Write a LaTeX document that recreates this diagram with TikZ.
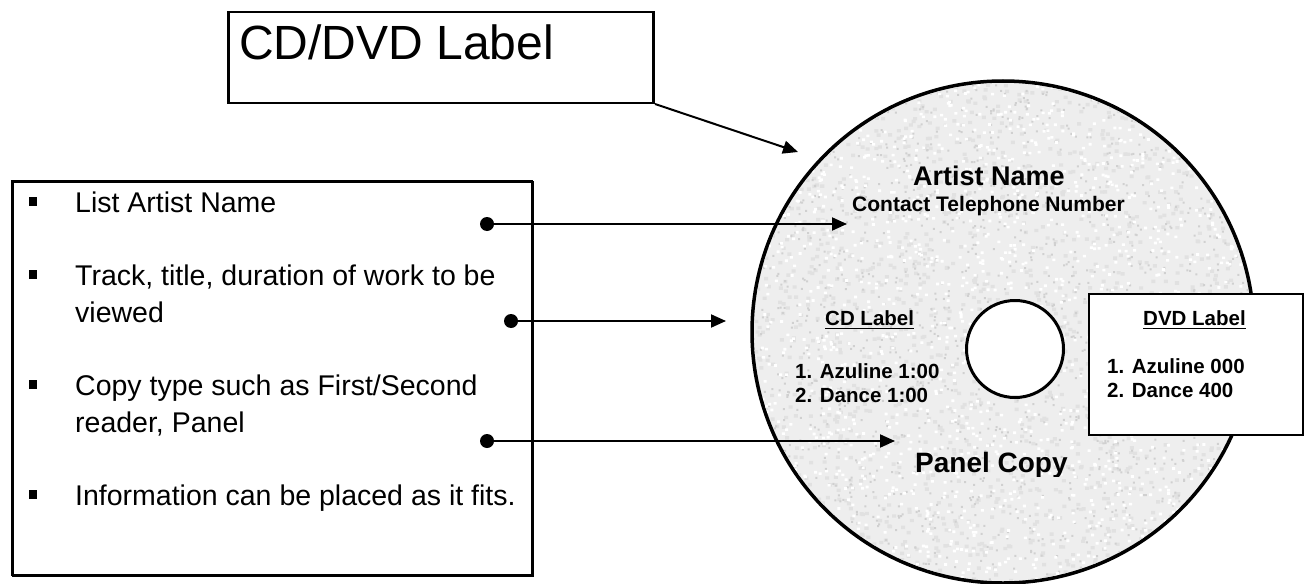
\documentclass[tikz,border=0pt]{standalone}
\usepackage{fontspec}
\setmainfont{Liberation Sans}
\usetikzlibrary{arrows.meta}
\definecolor{diskbase}{RGB}{238,238,238}
\definecolor{speckdark}{RGB}{208,208,208}
\definecolor{speckmid}{RGB}{225,225,225}
\tikzset{
  conn/.style={draw=black, line width=2pt, -{Triangle[length=15pt,width=13pt]}},
  dotend/.style={circle, fill=black, inner sep=0pt, minimum size=14pt},
  bul/.style={rectangle, fill=black, inner sep=0pt, minimum size=8.5pt},
  lefttxt/.style={anchor=base west, inner sep=0pt, font=\fontsize{28.5}{34}\selectfont},
  disktxt/.style={anchor=base west, inner sep=0pt, font=\bfseries\fontsize{20.5}{24}\selectfont},
}
\begin{document}
\begin{tikzpicture}[x=1pt,y=-1pt]
\useasboundingbox (0,0) rectangle (1305,583);

% ---- top title box
\draw[line width=2pt] (228.5,12.5) rectangle (653.5,103.5);
\node[draw=black, line width=2.2pt, minimum width=425pt, minimum height=91pt, anchor=north west, inner sep=0pt] (title) at (227,11) {};
\node[anchor=base west, inner sep=0pt, font=\fontsize{48}{56}\selectfont] (titletxt) at (239,60) {CD/DVD Label};
\coordinate (tstart) at (655,104);

% ---- disk
\node[circle, draw=black, line width=3.5pt, fill=diskbase, minimum size=502pt, inner sep=0pt] (disk) at (1003,332) {};
\begin{scope}
\clip (1003,332) circle (249pt);
\pgfmathsetseed{7}
\foreach \j in {1,...,4}{
  \fill[speckmid] \foreach \i in {1,...,420}{ ({752+502*rnd},{81+502*rnd}) rectangle +(4,3.4) };
}
\foreach \j in {1,...,4}{
  \fill[speckdark] \foreach \i in {1,...,400}{ ({752+502*rnd},{81+502*rnd}) rectangle +(2,2) };
}
\foreach \j in {1,...,4}{
  \fill[white] \foreach \i in {1,...,420}{ ({752+502*rnd},{81+502*rnd}) rectangle +(3,2.6) };
}
\end{scope}
\node[circle, draw=black, line width=3pt, fill=white, minimum size=97pt, inner sep=0pt] (hole) at (1015,349) {};

% ---- disk texts
\node[anchor=base west, inner sep=0pt, font=\bfseries\fontsize{27}{31}\selectfont] (artist) at (913,185) {Artist Name};
\node[anchor=base west, inner sep=0pt, font=\bfseries\fontsize{21}{25}\selectfont] (contact) at (852,211) {Contact Telephone Number};

\node[disktxt] (cdl) at (825,325) {CD Label};
\draw[line width=1.8pt] ([yshift=-3.5pt]cdl.base west) -- ([yshift=-3.5pt]cdl.base east);
\node[disktxt] (cd1) at (795,378) {1. Azuline 1:00};
\node[disktxt] (cd2) at (795,402) {2. Dance 1:00};

\begin{scope}
\clip (880,440) rectangle (1100,476);
\node[anchor=base west, inner sep=0pt, font=\bfseries\fontsize{28}{32}\selectfont] (panel) at (915,472) {Panel Copy};
\end{scope}

% ---- DVD box
\node[draw=black, line width=1.6pt, fill=white, minimum width=214pt, minimum height=141pt, anchor=north west, inner sep=0pt] (dvdbox) at (1088,293) {};
\node[disktxt] (dvdl) at (1143,325) {DVD Label};
\draw[line width=1.8pt] ([yshift=-3.5pt]dvdl.base west) -- ([yshift=-3.5pt]dvdl.base east);
\node[disktxt] (dvd1) at (1107,373) {1. Azuline 000};
\node[disktxt] (dvd2) at (1107,397) {2. Dance 400};

% ---- left box
\draw[line width=2pt] (12.5,181.5) rectangle (532.5,575.5);
\node[draw=black, line width=2.2pt, minimum width=520pt, minimum height=394pt, anchor=north west, inner sep=0pt] (leftbox) at (11,180) {};

\node[bul] (b1) at (33,201.5) {};
\node[bul] (b2) at (33,274.5) {};
\node[bul] (b3) at (33,384.5) {};
\node[bul] (b4) at (33,494.5) {};
\node[lefttxt] (l1) at (75,212) {List Artist Name};
\node[lefttxt] (l2a) at (75,285) {Track, title, duration of work to be};
\node[lefttxt] (l2b) at (75,322) {viewed};
\node[lefttxt] (l3a) at (75,395) {Copy type such as First/Second};
\node[lefttxt] (l3b) at (75,432) {reader, Panel};
\node[lefttxt] (l4) at (75,505) {Information can be placed as it fits.};

% ---- connectors
\node[dotend] (d1) at (487,224) {};
\node[dotend] (d2) at (511,321) {};
\node[dotend] (d3) at (487,441) {};
\coordinate (e1) at (847,224);
\coordinate (e2) at (726,321);
\coordinate (e3) at (895,441);
\coordinate (tend) at (798,152);
\draw[conn] (d1.center) -- (e1);
\draw[conn] (d2.center) -- (e2);
\draw[conn] (d3.center) -- (e3);
\draw[conn] (tstart) -- (tend);
\end{tikzpicture}
\end{document}
